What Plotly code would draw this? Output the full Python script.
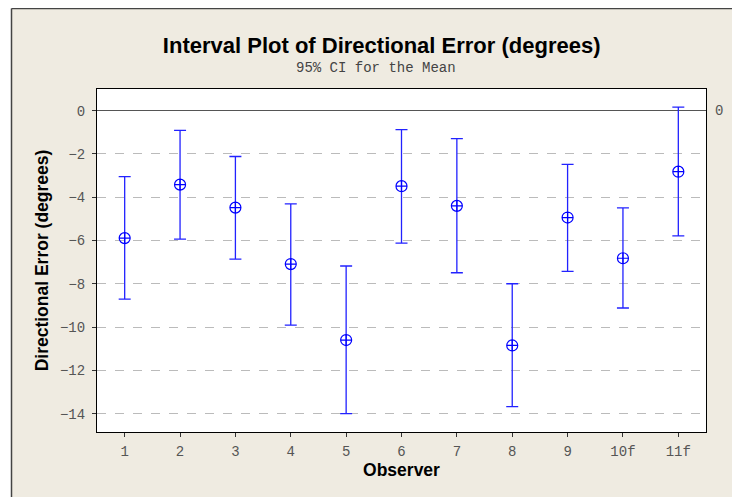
import plotly.graph_objects as go

observers = ['1', '2', '3', '4', '5', '6', '7', '8', '9', '10f', '11f']
means = [-5.89, -3.42, -4.48, -7.09, -10.60, -3.49, -4.40, -10.85, -4.94, -6.82, -2.82]
upper = [-3.05, -0.91, -2.12, -4.31, -7.18, -0.88, -1.29, -8.00, -2.48, -4.49, 0.16]
lower = [-8.71, -5.94, -6.86, -9.91, -14.00, -6.12, -7.49, -13.68, -7.43, -9.12, -5.79]
y_ticks = [0, -2, -4, -6, -8, -10, -12, -14]

x_pos = list(range(1, len(observers) + 1))
err_plus = [u - m for u, m in zip(upper, means)]
err_minus = [m - l for m, l in zip(means, lower)]

# the page puts the figure 8px in from the window corner, so work in screen pixels
OFF = 8
W, H = 740, 497
ML, MT = 97 - OFF, 89 - OFF
MR = W - (706 - OFF)
MB = H - (432 - OFF)
PW, PH = W - ML - MR, H - MT - MB


def px_x(p):
    return (p - OFF - ML) / PW


def px_y(p):
    return (H - MB - (p - OFF)) / PH


fig = go.Figure()
fig.add_trace(go.Scatter(
    x=x_pos, y=means, mode='markers',
    marker=dict(symbol='circle-cross-open', size=11, color='#0000FF', line=dict(width=1.2)),
    error_y=dict(type='data', symmetric=False, array=err_plus, arrayminus=err_minus,
                 color='#2222FF', thickness=1.3, width=6),
    showlegend=False,
))

tick_font = dict(family='Liberation Mono, DejaVu Sans Mono, monospace', size=14, color='#555555')
label_font = dict(family='Liberation Sans, Arial, sans-serif', size=17.5, color='black')

fig.update_layout(
    width=W, height=H,
    margin=dict(l=ML, r=MR, t=MT, b=MB),
    paper_bgcolor='#EFEBE1',
    plot_bgcolor='white',
    title=dict(
        text='<b>Interval Plot of Directional Error (degrees)</b>',
        x=0.505, xanchor='center', y=1 - (45 - OFF) / H, yanchor='middle',
        font=dict(family='Liberation Sans, Arial, sans-serif', size=22, color='black'),
    ),
    xaxis=dict(
        tickmode='array', tickvals=x_pos, ticktext=observers,
        range=[0.5, 11.5], showgrid=False, zeroline=False,
        ticks='outside', ticklen=4, tickcolor='#333', ticklabelstandoff=2,
        showline=True, linecolor='black', linewidth=1, mirror=True,
        tickfont=tick_font,
        title=dict(text='<b>Observer</b>', font=label_font, standoff=3),
    ),
    yaxis=dict(
        tickvals=y_ticks, range=[-14.85, 1.0],
        showgrid=True, gridcolor='#BBBBBB', griddash='dash', gridwidth=1,
        zeroline=True, zerolinecolor='#555555', zerolinewidth=1,
        ticks='outside', ticklen=4, tickcolor='#333', ticklabelstandoff=4,
        showline=True, linecolor='black', linewidth=1, mirror=True,
        tickfont=tick_font,
        title=dict(text='<b>Directional Error (degrees)</b>', font=label_font, standoff=6),
    ),
    shapes=[
        # white strips outside the framed panel (left and top)
        dict(type='rect', xref='paper', yref='paper', x0=px_x(0), x1=px_x(11.5), y0=px_y(H + OFF), y1=px_y(0),
             fillcolor='white', line=dict(width=0), layer='below'),
        dict(type='rect', xref='paper', yref='paper', x0=px_x(0), x1=px_x(W + OFF), y0=px_y(8.5), y1=px_y(0),
             fillcolor='white', line=dict(width=0), layer='below'),
        dict(type='line', xref='paper', yref='paper', x0=px_x(11.5), x1=px_x(11.5), y0=px_y(H + OFF), y1=px_y(8.5),
             line=dict(color='#444444', width=1.5)),
        dict(type='line', xref='paper', yref='paper', x0=px_x(11.5), x1=px_x(W + OFF), y0=px_y(8.5), y1=px_y(8.5),
             line=dict(color='#444444', width=1.5)),
    ],
    annotations=[
        dict(text='95% CI for the Mean', xref='paper', yref='paper', x=px_x(376), y=px_y(68),
             showarrow=False, xanchor='center', yanchor='middle',
             font=dict(family='Liberation Mono, DejaVu Sans Mono, monospace', size=14, color='#444444')),
        dict(text='0', xref='paper', yref='y', x=px_x(719), y=0, showarrow=False,
             xanchor='center', yanchor='middle', font=tick_font),
    ],
)

fig.write_html('out.html')
